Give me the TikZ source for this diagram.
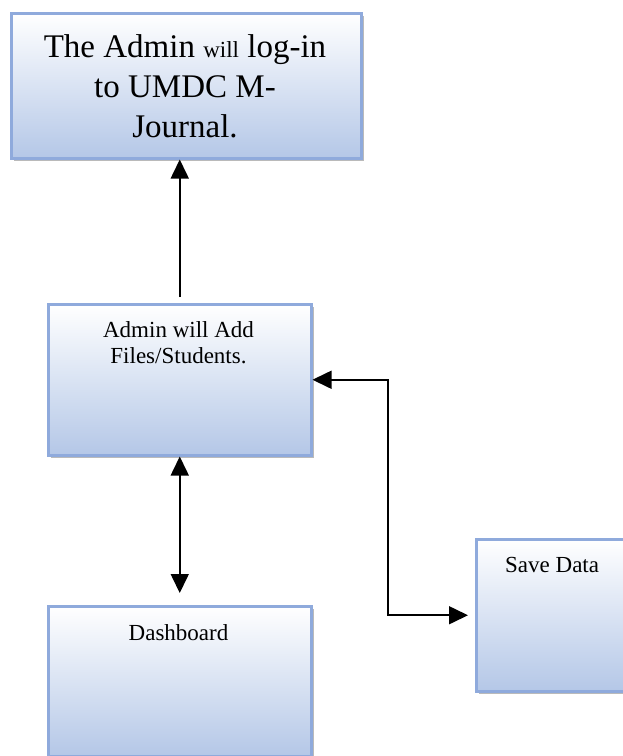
\documentclass[tikz,border=0pt]{standalone}
\usepackage{fontspec}
\setmainfont{Liberation Serif}
\usetikzlibrary{arrows.meta,shadows}
\definecolor{boxedge}{RGB}{143,170,220}
\definecolor{boxbot}{RGB}{180,199,231}
\tikzset{
  box/.style={rectangle, draw=boxedge, line width=2.5pt, top color=white, bottom color=boxbot,
    drop shadow={shadow xshift=3pt, shadow yshift=-3pt, opacity=0.45, fill=black!60},
    anchor=north west, inner sep=0pt},
  bigtxt/.style={anchor=base, inner sep=0pt, font=\fontsize{33}{39}\selectfont},
  txt/.style={anchor=base, inner sep=0pt, font=\fontsize{23}{26}\selectfont},
  arr/.style={line width=1.6pt, -{Triangle[length=19pt,width=18pt]}},
  darr/.style={line width=1.6pt, {Triangle[length=19pt,width=18pt]}-{Triangle[length=19pt,width=18pt]}}
}
\begin{document}
\begin{tikzpicture}[x=1pt,y=-1pt]
\useasboundingbox (0,0) rectangle (623,756);
\node[box, minimum width=350pt, minimum height=145pt] (b1) at (10,12) {};
\node[box, minimum width=263pt, minimum height=151pt] (b2) at (47,303) {};
\node[box, minimum width=263pt, minimum height=150pt] (b3) at (47,605) {};
\node[box, minimum width=160pt, minimum height=152pt] (b4) at (475,538) {};

\node[bigtxt] (t1a) at (185,57) {The Admin {\fontsize{23}{26}\selectfont will} log-in};
\node[bigtxt] (t1b) at (185,97) {to UMDC M-};
\node[bigtxt] (t1c) at (185,137) {Journal.};

\node[txt] (t2a) at (178.5,337) {Admin will Add};
\node[txt] (t2b) at (178.5,363) {Files/Students.};
\node[txt] (t3) at (178.5,640) {Dashboard};
\node[txt, anchor=base west] (t4) at (505,572) {Save Data};

\draw[arr, shorten <=6pt] (b2.north) -- (b2.north |- b1.south);
\draw[darr, shorten >=12pt] (b2.south) -- (b3.north);
\coordinate (k) at (388,500);
\draw[darr, shorten >=7pt] (b2.east) -| (k) |- (b4.west);
\end{tikzpicture}
\end{document}
